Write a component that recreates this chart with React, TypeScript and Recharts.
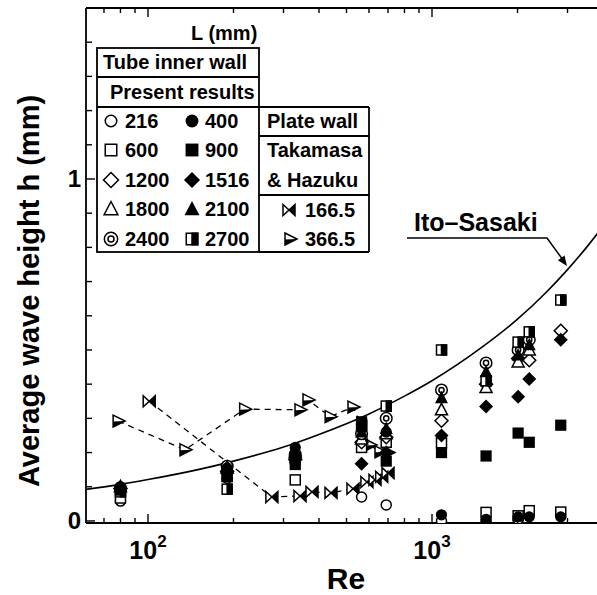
import React from "react";
import { ComposedChart, XAxis, YAxis, Scatter, Line } from "recharts";

// Re positions of the measurement groups (tube inner wall)
const clusterRe = [80, 190, 330, 565, 690, 1080, 1550, 2010, 2200, 2840];

// average wave height h (mm) per tube length L (mm); null = no point
const h216 = [0.058, 0.125, 0.17, 0.07, 0.047, 0.0, 0.0, 0.005, null, null];
const h400 = [0.1, 0.155, 0.215, 0.27, 0.26, 0.018, 0.005, 0.012, 0.012, 0.012];
const h600 = [0.067, 0.13, 0.12, 0.215, 0.23, 0.228, 0.025, 0.015, 0.03, 0.026];
const h900 = [0.09, 0.13, 0.165, 0.29, 0.175, 0.2, 0.19, 0.257, 0.23, 0.28];
const h1200 = [0.095, 0.145, 0.18, 0.23, 0.245, 0.293, 0.4, 0.475, 0.47, 0.556];
const h1516 = [0.095, 0.14, 0.19, 0.167, 0.2, 0.25, 0.335, 0.363, 0.415, 0.53];
const h1800 = [0.1, 0.155, 0.2, 0.24, 0.255, 0.325, 0.39, 0.465, 0.5, null];
const h2100 = [0.1, 0.16, 0.205, 0.26, 0.27, 0.36, 0.436, 0.485, 0.515, null];
const h2400 = [0.097, 0.16, 0.195, 0.255, 0.3, 0.383, 0.462, 0.5, 0.53, null];
const h2700 = [0.085, 0.093, 0.185, 0.28, 0.336, 0.5, 0.41, 0.523, 0.553, 0.646];

// plate wall, Takamasa & Hazuku
const re166 = [101, 273, 343, 378, 441, 527, 590, 630, 665, 700];
const h166 = [0.35, 0.07, 0.073, 0.085, 0.082, 0.094, 0.114, 0.12, 0.129, 0.14];
const re366 = [78.5, 135, 219, 343, 366, 438, 527, 605, 656, 700];
const h366 = [0.292, 0.208, 0.327, 0.325, 0.354, 0.305, 0.333, 0.222, 0.202, 0.2];

// Ito-Sasaki correlation
const itoRe = [60, 80, 100, 150, 200, 300, 400, 600, 800, 1000, 1500, 2000, 2500, 3000, 3500, 3904];
const itoH = [0.092, 0.107, 0.121, 0.15, 0.175, 0.216, 0.253, 0.313, 0.365, 0.41, 0.508, 0.59, 0.665, 0.735, 0.8, 0.85];

const xTicks = [70, 80, 90, 100, 200, 300, 400, 500, 600, 700, 800, 900, 1000, 2000, 3000];
const yTicks = [0, 0.1, 0.2, 0.3, 0.4, 0.5, 0.6, 0.7, 0.8, 0.9, 1, 1.1, 1.2, 1.3, 1.4];

const W = 600;
const H = 595;
const PLOT_TOP = 8;
const FONT = "'Liberation Sans', Arial, Helvetica, sans-serif";

const toPts = (res: number[], hs: (number | null)[]) =>
  res
    .map((re, i) => ({ re, h: hs[i] }))
    .filter((p): p is { re: number; h: number } => p.h !== null);

const curve = itoRe.map((re, i) => ({ re, h: itoH[i] }));

type Kind =
  | "circleOpen"
  | "circleFilled"
  | "squareOpen"
  | "squareFilled"
  | "diamondOpen"
  | "diamondFilled"
  | "triOpen"
  | "triFilled"
  | "doubleCircle"
  | "halfSquare"
  | "bowtie"
  | "triRight";

function Marker({ kind, cx, cy, s = 1 }: { kind: Kind; cx: number; cy: number; s?: number }) {
  const st = { stroke: "#000", strokeWidth: 1.5 };
  const p = (pts: number[][]) => pts.map(([a, b]) => `${cx + a * s},${cy + b * s}`).join(" ");
  switch (kind) {
    case "circleOpen":
      return <circle cx={cx} cy={cy} r={5 * s} fill="#fff" {...st} />;
    case "circleFilled":
      return <circle cx={cx} cy={cy} r={5.6 * s} fill="#000" />;
    case "squareOpen":
      return <rect x={cx - 5 * s} y={cy - 5 * s} width={10 * s} height={10 * s} fill="#fff" {...st} />;
    case "squareFilled":
      return <rect x={cx - 5.6 * s} y={cy - 5.6 * s} width={11.2 * s} height={11.2 * s} fill="#000" />;
    case "diamondOpen":
      return <polygon points={p([[0, -6.5], [6.5, 0], [0, 6.5], [-6.5, 0]])} fill="#fff" {...st} />;
    case "diamondFilled":
      return <polygon points={p([[0, -7], [7, 0], [0, 7], [-7, 0]])} fill="#000" />;
    case "triOpen":
      return <polygon points={p([[0, -6.5], [6, 5], [-6, 5]])} fill="#fff" {...st} />;
    case "triFilled":
      return <polygon points={p([[0, -7], [6.5, 5.5], [-6.5, 5.5]])} fill="#000" />;
    case "doubleCircle":
      return (
        <g>
          <circle cx={cx} cy={cy} r={5.8 * s} fill="#fff" {...st} />
          <circle cx={cx} cy={cy} r={2.6 * s} fill="#fff" {...st} />
        </g>
      );
    case "halfSquare":
      return (
        <g>
          <rect x={cx - 5 * s} y={cy - 5 * s} width={10 * s} height={10 * s} fill="#fff" {...st} />
          <rect x={cx} y={cy - 5 * s} width={5 * s} height={10 * s} fill="#000" {...st} />
        </g>
      );
    case "bowtie":
      return (
        <g>
          <polygon points={p([[-6, -5.5], [0, 0], [-6, 5.5]])} fill="#fff" {...st} />
          <polygon points={p([[6, -5.5], [0, 0], [6, 5.5]])} fill="#000" {...st} />
        </g>
      );
    case "triRight":
      return (
        <g>
          <polygon points={p([[-5, -6], [7, 0], [-5, 6]])} fill="#fff" {...st} />
          <polygon points={p([[-5, 0.5], [7, 0], [-5, 6]])} fill="#000" />
        </g>
      );
  }
  return null;
}

const tubeSeries: { name: string; hs: (number | null)[]; kind: Kind }[] = [
  { name: "216", hs: h216, kind: "circleOpen" },
  { name: "600", hs: h600, kind: "squareOpen" },
  { name: "1200", hs: h1200, kind: "diamondOpen" },
  { name: "1800", hs: h1800, kind: "triOpen" },
  { name: "2400", hs: h2400, kind: "doubleCircle" },
  { name: "2700", hs: h2700, kind: "halfSquare" },
  { name: "400", hs: h400, kind: "circleFilled" },
  { name: "900", hs: h900, kind: "squareFilled" },
  { name: "1516", hs: h1516, kind: "diamondFilled" },
  { name: "2100", hs: h2100, kind: "triFilled" },
];

function XTick(props: any) {
  const { x, y, payload } = props;
  const v = payload.value as number;
  const lg = Math.log10(v);
  const major = Math.abs(lg - Math.round(lg)) < 1e-6;
  const len = major ? 9 : 5;
  return (
    <g>
      <line x1={x} x2={x} y1={y} y2={y - len} stroke="#000" strokeWidth={1.4} />
      <line x1={x} x2={x} y1={PLOT_TOP} y2={PLOT_TOP + len} stroke="#000" strokeWidth={1.4} />
      {major && (
        <text x={x} y={y + 36} textAnchor="middle" fontFamily={FONT} fontWeight="bold" fontSize={25} fill="#000">
          10
          <tspan dy={-12} fontSize={17}>
            {Math.round(lg)}
          </tspan>
        </text>
      )}
    </g>
  );
}

function YTick(props: any) {
  const { x, y, payload } = props;
  const v = payload.value as number;
  const major = v === 0 || v === 1;
  return (
    <g>
      <line x1={x} x2={x + (major ? 9 : 6)} y1={y} y2={y} stroke="#000" strokeWidth={1.4} />
      {major && (
        <text x={x - 5} y={y + 8.5} textAnchor="end" fontFamily={FONT} fontWeight="bold" fontSize={24} fill="#000">
          {v}
        </text>
      )}
    </g>
  );
}

const tableRows: [Kind, string, Kind, string][] = [
  ["circleOpen", "216", "circleFilled", "400"],
  ["squareOpen", "600", "squareFilled", "900"],
  ["diamondOpen", "1200", "diamondFilled", "1516"],
  ["triOpen", "1800", "triFilled", "2100"],
  ["doubleCircle", "2400", "halfSquare", "2700"],
];
const rowBase = [128, 157, 187, 216, 246];

function Overlay() {
  const t = { fontFamily: FONT, fontWeight: "bold" as const, fill: "#000" };
  const ln = { stroke: "#000", strokeWidth: 1.8 };
  return (
    <svg width={W} height={H} style={{ position: "absolute", left: 0, top: 0, pointerEvents: "none" }}>
      {/* axis titles */}
      <text x={346} y={589} textAnchor="middle" fontSize={30} {...t}>
        Re
      </text>
      <text transform="translate(39,291) rotate(-90)" textAnchor="middle" fontSize={29} {...t}>
        Average wave height h (mm)
      </text>

      {/* legend table */}
      <text x={191} y={40} fontSize={20} {...t}>
        L (mm)
      </text>
      <rect x={97} y={48} width={162} height={204} fill="none" {...ln} />
      <line x1={97} x2={259} y1={77} y2={77} {...ln} />
      <line x1={97} x2={369} y1={107} y2={107} {...ln} />
      <line x1={369} x2={369} y1={107} y2={252} {...ln} />
      <line x1={259} x2={369} y1={136} y2={136} {...ln} />
      <line x1={259} x2={369} y1={195} y2={195} {...ln} />
      <line x1={259} x2={369} y1={252} y2={252} {...ln} />
      <text x={103} y={69} fontSize={20} {...t}>
        Tube inner wall
      </text>
      <text x={110} y={99} fontSize={20} {...t}>
        Present results
      </text>
      {tableRows.map(([k1, v1, k2, v2], i) => (
        <g key={v1}>
          <Marker kind={k1} cx={111} cy={rowBase[i] - 7} s={1.15} />
          <text x={125} y={rowBase[i]} fontSize={20} {...t}>
            {v1}
          </text>
          <Marker kind={k2} cx={192} cy={rowBase[i] - 7} s={1.15} />
          <text x={205} y={rowBase[i]} fontSize={20} {...t}>
            {v2}
          </text>
        </g>
      ))}
      <text x={267} y={128} fontSize={20} {...t}>
        Plate wall
      </text>
      <text x={267} y={157} fontSize={20} {...t}>
        Takamasa
      </text>
      <text x={267} y={187} fontSize={20} {...t}>
        &amp; Hazuku
      </text>
      <Marker kind="bowtie" cx={289} cy={210} />
      <text x={305} y={217} fontSize={20} {...t}>
        166.5
      </text>
      <Marker kind="triRight" cx={290} cy={239} />
      <text x={305} y={246} fontSize={20} {...t}>
        366.5
      </text>

      {/* Ito-Sasaki annotation */}
      <text x={414} y={231} fontSize={25} {...t}>
        Ito–Sasaki
      </text>
      <polyline points="407,238 547,238 563,260" fill="none" stroke="#000" strokeWidth={1.5} />
      <polygon points="567,266 557.9,260.2 564.5,255.6" fill="#000" />
    </svg>
  );
}

export default function App() {
  return (
    <div style={{ position: "relative", width: W, height: H }}>
      <style>{"body{margin:0;overflow:hidden}"}</style>
      <ComposedChart width={W} height={H} margin={{ top: PLOT_TOP, right: 0, left: 0, bottom: 0 }}>
        <XAxis
          dataKey="re"
          type="number"
          scale="log"
          domain={[60.5, 3904]}
          allowDataOverflow
          ticks={xTicks}
          interval={0}
          tickSize={0}
          tickMargin={0}
          tickLine={false}
          height={72}
          axisLine={{ stroke: "#000", strokeWidth: 1.8 }}
          tick={(p: any) => <XTick {...p} />}
        />
        <YAxis
          dataKey="h"
          type="number"
          domain={[-0.006, 1.5]}
          allowDataOverflow
          ticks={yTicks}
          interval={0}
          tickSize={0}
          tickMargin={0}
          tickLine={false}
          width={86}
          axisLine={{ stroke: "#000", strokeWidth: 1.8 }}
          tick={(p: any) => <YTick {...p} />}
        />
        <Line
          data={curve}
          dataKey="h"
          type="monotone"
          stroke="#000"
          strokeWidth={1.6}
          dot={false}
          activeDot={false}
          isAnimationActive={false}
        />
        <Scatter
          data={toPts(re366, h366)}
          line={{ stroke: "#000", strokeWidth: 1.3, strokeDasharray: "6 5" }}
          shape={(p: any) => <Marker kind="triRight" cx={p.cx} cy={p.cy} />}
          isAnimationActive={false}
        />
        <Scatter
          data={toPts(re166, h166)}
          line={{ stroke: "#000", strokeWidth: 1.3, strokeDasharray: "6 5" }}
          shape={(p: any) => <Marker kind="bowtie" cx={p.cx} cy={p.cy} />}
          isAnimationActive={false}
        />
        {tubeSeries.map((s) => (
          <Scatter
            key={s.name}
            name={s.name}
            data={toPts(clusterRe, s.hs)}
            shape={(p: any) => <Marker kind={s.kind} cx={p.cx} cy={p.cy} />}
            isAnimationActive={false}
          />
        ))}
      </ComposedChart>
      {/* frame top edge */}
      <svg width={W} height={H} style={{ position: "absolute", left: 0, top: 0, pointerEvents: "none" }}>
        <line x1={86} x2={W} y1={PLOT_TOP} y2={PLOT_TOP} stroke="#000" strokeWidth={1.8} />
      </svg>
      <Overlay />
    </div>
  );
}
